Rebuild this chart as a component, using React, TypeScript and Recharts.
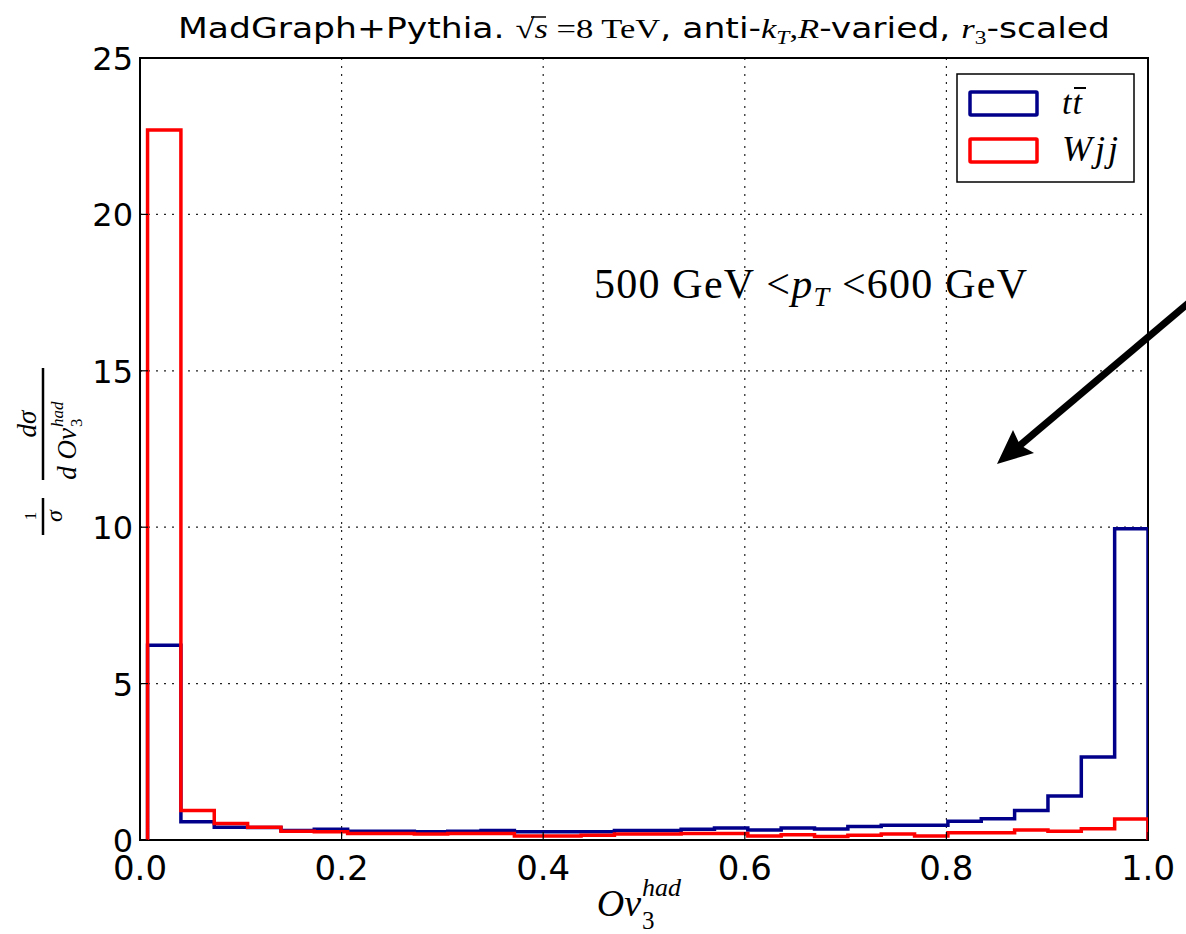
import React from "react";
import { LineChart, Line, XAxis, YAxis, CartesianGrid, ReferenceArea } from "recharts";

// histogram range and bin contents (30 equal bins between BIN_LO and BIN_HI)
const BIN_LO = 0.0075;
const BIN_HI = 1.0;
const TT_VALUES = [
  6.23, 0.58, 0.41, 0.4, 0.3, 0.34, 0.28, 0.28, 0.26, 0.28,
  0.3, 0.26, 0.26, 0.26, 0.3, 0.3, 0.34, 0.38, 0.32, 0.38,
  0.35, 0.43, 0.47, 0.47, 0.6, 0.68, 0.94, 1.41, 2.65, 9.95,
];
const WJJ_VALUES = [
  22.7, 0.94, 0.53, 0.41, 0.28, 0.26, 0.21, 0.21, 0.19, 0.21,
  0.21, 0.13, 0.13, 0.15, 0.19, 0.19, 0.21, 0.21, 0.13, 0.17,
  0.11, 0.15, 0.19, 0.13, 0.23, 0.23, 0.32, 0.28, 0.36, 0.67,
];
const X_TICKS = [0, 0.2, 0.4, 0.6, 0.8, 1.0];
const Y_TICKS = [0, 5, 10, 15, 20, 25];

const BLUE = "#00008B";
const RED = "#FF0000";
const SANS = "'DejaVu Sans', sans-serif";
const SERIF = "'Liberation Serif', serif";
const TICK_FS = 34;

const W = 1186;
const H = 934;

function buildRows() {
  const n = TT_VALUES.length;
  const step = (BIN_HI - BIN_LO) / n;
  const rows = [{ x: BIN_LO, tt: 0, wjj: 0 }];
  for (let i = 0; i < n; i++) {
    rows.push({ x: BIN_LO + i * step, tt: TT_VALUES[i], wjj: WJJ_VALUES[i] });
  }
  rows.push({ x: BIN_HI, tt: TT_VALUES[n - 1], wjj: WJJ_VALUES[n - 1] });
  rows.push({ x: BIN_HI, tt: 0, wjj: 0 });
  return rows;
}

const BottomTick = (props: any) => {
  const { x, y, payload } = props;
  return (
    <g>
      <line x1={x} x2={x} y1={y} y2={y - 8} stroke="#000" strokeWidth={1.2} />
      <text x={x} y={y + 40} textAnchor="middle" fontSize={TICK_FS} fontFamily={SANS} fill="#000">
        {Number(payload.value).toFixed(1)}
      </text>
    </g>
  );
};
const TopTick = (props: any) => {
  const { x, y } = props;
  return <line x1={x} x2={x} y1={y} y2={y + 8} stroke="#000" strokeWidth={1.2} />;
};
const LeftTick = (props: any) => {
  const { x, y, payload } = props;
  return (
    <g>
      <line x1={x} x2={x + 8} y1={y} y2={y} stroke="#000" strokeWidth={1.2} />
      <text x={x - 7} y={y + 12} textAnchor="end" fontSize={32} fontFamily={SANS} fill="#000">
        {payload.value}
      </text>
    </g>
  );
};
const RightTick = (props: any) => {
  const { x, y } = props;
  return <line x1={x} x2={x - 8} y1={y} y2={y} stroke="#000" strokeWidth={1.2} />;
};

function Overlay() {
  return (
    <svg width={W} height={H} style={{ position: "absolute", left: 0, top: 0, pointerEvents: "none" }}>
      {/* title */}
      <text
        x={178}
        y={38}
        fontSize={28}
        fontFamily={SANS}
        fill="#000"
        textLength={932}
        lengthAdjust="spacingAndGlyphs"
      >
        <tspan>MadGraph+Pythia. </tspan>
        <tspan fontFamily={SERIF}>√</tspan>
        <tspan fontFamily={SERIF} fontStyle="italic">s</tspan>
        <tspan fontFamily={SERIF}> =8 TeV</tspan>
        <tspan>, anti-</tspan>
        <tspan fontFamily={SERIF} fontStyle="italic">k</tspan>
        <tspan fontFamily={SERIF} fontStyle="italic" fontSize={19} dy={6}>T</tspan>
        <tspan fontFamily={SERIF} dy={-6}>,</tspan>
        <tspan fontFamily={SERIF} fontStyle="italic">R</tspan>
        <tspan>-varied, </tspan>
        <tspan fontFamily={SERIF} fontStyle="italic">r</tspan>
        <tspan fontFamily={SERIF} fontSize={19} dy={6}>3</tspan>
        <tspan dy={-6}>-scaled</tspan>
      </text>
      {/* radical bar over s */}
      <line x1={531} x2={546} y1={17} y2={17} stroke="#000" strokeWidth={1.5} />

      {/* y label */}
      <g transform="translate(43,0) rotate(-90)" fontFamily={SERIF} fill="#000">
        <line x1={-535} x2={-498} y1={0} y2={0} stroke="#000" strokeWidth={2.5} />
        <text x={-516} y={-7} textAnchor="middle" fontSize={17}>1</text>
        <text x={-516} y={19} textAnchor="middle" fontSize={24} fontStyle="italic">σ</text>
        <line x1={-480} x2={-368} y1={0} y2={0} stroke="#000" strokeWidth={2.5} />
        <text x={-424} y={-7} textAnchor="middle" fontSize={27} fontStyle="italic">dσ</text>
        <text x={-428} y={33} textAnchor="end" fontSize={27} fontStyle="italic">d Ov</text>
        <text x={-427} y={20} fontSize={17} fontStyle="italic">had</text>
        <text x={-427} y={39} fontSize={17}>3</text>
      </g>

      {/* x label */}
      <text x={641} y={916} textAnchor="end" fontSize={38} fontFamily={SERIF} fontStyle="italic" fill="#000">Ov</text>
      <text x={642} y={896} fontSize={26} fontFamily={SERIF} fontStyle="italic" fill="#000">had</text>
      <text x={642} y={929} fontSize={25} fontFamily={SERIF} fill="#000">3</text>

      {/* annotation */}
      <text x={594} y={298} fontSize={42} fontFamily={SERIF} fill="#000" textLength={433} lengthAdjust="spacing">
        <tspan>500  GeV </tspan>
        <tspan>&lt;</tspan>
        <tspan fontStyle="italic">p</tspan>
        <tspan fontStyle="italic" fontSize={28} dy={8}>T</tspan>
        <tspan dy={-8}> &lt;600  GeV</tspan>
      </text>

      {/* arrow */}
      <line x1={1192} y1={300} x2={1018} y2={447} stroke="#000" strokeWidth={7} />
      <polygon points="997,464 1013,430 1020,445 1034,453" fill="#000" />

      {/* legend */}
      <rect x={957} y={74} width={177} height={108} fill="#fff" stroke="#000" strokeWidth={1.5} />
      <rect x={970} y={92} width={67} height={23} fill="none" stroke={BLUE} strokeWidth={3.5} rx={1} />
      <rect x={970} y={139} width={67} height={23} fill="none" stroke={RED} strokeWidth={3.5} rx={1} />
      <text x={1062} y={114} fontSize={34} fontFamily={SERIF} fontStyle="italic" fill="#000" letterSpacing={1}>
        tt
      </text>
      <line x1={1074} x2={1086} y1={88} y2={88} stroke="#000" strokeWidth={2} />
      <text x={1062} y={161} fontSize={36} fontFamily={SERIF} fontStyle="italic" fill="#000" letterSpacing={3}>
        Wjj
      </text>
    </svg>
  );
}

export default function App() {
  const rows = buildRows();
  return (
    <div style={{ position: "absolute", left: 0, top: 0, width: W, height: H, background: "#fff" }}>
      <LineChart width={W} height={H} data={rows} margin={{ top: 58, right: 38, bottom: 0, left: 0 }}>
        <CartesianGrid stroke="#222" strokeDasharray="2 6" strokeWidth={1.2} />
        <XAxis
          dataKey="x"
          type="number"
          domain={[0, 1]}
          ticks={X_TICKS}
          interval={0}
          height={94}
          axisLine={false}
          tickLine={false}
          tickSize={0}
          tickMargin={0}
          tick={<BottomTick />}
          allowDataOverflow
        />
        <XAxis
          xAxisId="top"
          orientation="top"
          dataKey="x"
          type="number"
          domain={[0, 1]}
          ticks={X_TICKS}
          interval={0}
          height={0}
          axisLine={false}
          tickLine={false}
          tickSize={0}
          tickMargin={0}
          tick={<TopTick />}
        />
        <YAxis
          type="number"
          domain={[0, 25]}
          ticks={Y_TICKS}
          interval={0}
          width={140}
          axisLine={false}
          tickLine={false}
          tickSize={0}
          tickMargin={0}
          tick={<LeftTick />}
          allowDataOverflow
        />
        <YAxis
          yAxisId="right"
          orientation="right"
          type="number"
          domain={[0, 25]}
          ticks={Y_TICKS}
          interval={0}
          width={0}
          axisLine={false}
          tickLine={false}
          tickSize={0}
          tickMargin={0}
          tick={<RightTick />}
        />
        <ReferenceArea x1={0} x2={1} y1={0} y2={25} fill="none" stroke="#000" strokeWidth={2} />
        <Line
          dataKey="tt"
          name="tt̄"
          type="stepAfter"
          stroke={BLUE}
          strokeWidth={3.5}
          strokeLinejoin="miter"
          dot={false}
          activeDot={false}
          isAnimationActive={false}
        />
        <Line
          dataKey="wjj"
          name="Wjj"
          type="stepAfter"
          stroke={RED}
          strokeWidth={3.5}
          strokeLinejoin="miter"
          dot={false}
          activeDot={false}
          isAnimationActive={false}
        />
      </LineChart>
      <Overlay />
    </div>
  );
}
